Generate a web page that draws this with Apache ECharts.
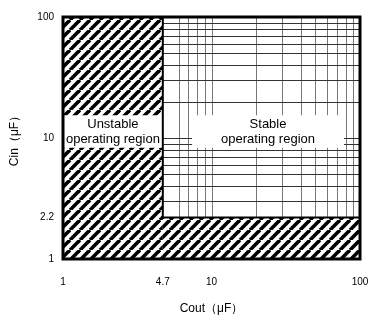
<!DOCTYPE html>
<html>
<head>
<meta charset="utf-8">
<script src="https://cdn.jsdelivr.net/npm/echarts@6/dist/echarts.min.js"></script>
<style>
  html, body { margin: 0; padding: 0; background: #fff; }
  #chart { width: 381px; height: 320px; }
</style>
</head>
<body>
<div id="chart"></div>
<script>
  // axis labels (uF)
  var xTicks = [1, 4.7, 10, 100]
  var yTicks = [1, 2.2, 10, 100]
  // stable region starts at Cout 4.7, Cin 2.2
  var xBound = 4.7
  var yBound = 2.2
  // log grid inside stable region
  var xGrid = [6, 7, 8, 9, 10, 20, 30, 40, 50, 60, 70, 80, 90]
  var yGrid = [3, 4, 5, 6, 7, 8, 9, 10, 20, 30, 40, 50, 60, 70, 80, 90]
  // hatched (unstable) rectangles: [x0, y0, x1, y1]
  var hatchRects = [
    [1, 1, xBound, 100],
    [xBound, 1, 100, yBound]
  ]
  var regionNames = ['Unstable\noperating region', 'Stable\noperating region']

  var FONT = '"Liberation Sans", Arial, sans-serif'

  function makeHatch (){
    var s = 10
    var c = document.createElement('canvas')
    c.width = s
    c.height = s
    var ctx = c.getContext('2d')
    ctx.fillStyle = '#fff'
    ctx.fillRect(0, 0, s, s)
    ctx.strokeStyle = '#000'
    ctx.lineWidth = 3.6
    for (var k = -1; k <= 1; k++) {
      ctx.beginPath()
      ctx.moveTo(k * s, s)
      ctx.lineTo(k * s + s, 0)
      ctx.stroke()
    }
    return c
  }
  var hatch = makeHatch()

  var chart = echarts.init(document.getElementById('chart'))

  var axisCommon = {
    type: 'log',
    logBase: 10,
    min: 1,
    max: 100,
    axisLine: { show: false },
    axisTick: { show: false },
    splitLine: { show: false },
    nameLocation: 'middle',
    nameTextStyle: { color: '#000', fontSize: 12, fontFamily: FONT },
  }

  var option = {
    animation: false,
    grid: { left: 63, right: 21, top: 17, bottom: 59 },
    xAxis: Object.assign({}, axisCommon, {
      name: 'Cout（μF）',
      nameGap: 44,
      axisLabel: {
        customValues: xTicks,
        margin: 18,
        color: '#000',
        fontSize: 10,
        fontFamily: FONT,
        formatter: function (v){ return String(+(+v).toPrecision(3)) },
      },
    }),
    yAxis: Object.assign({}, axisCommon, {
      name: 'Cin（μF）',
      nameGap: 42,
      axisLabel: {
        customValues: yTicks,
        margin: 9,
        color: '#000',
        fontSize: 10,
        fontFamily: FONT,
        formatter: function (v){ return String(+(+v).toPrecision(3)) },
      },
    }),
    series: [
      {
        type: 'custom',
        z: 2,
        data: hatchRects,
        renderItem: function (params, api){
          var p0 = api.coord([api.value(0), api.value(1)])
          var p1 = api.coord([api.value(2), api.value(3)])
          return {
            type: 'rect',
            shape: { x: p0[0], y: p1[1], width: p1[0] - p0[0], height: p0[1] - p1[1] },
            style: { fill: { image: hatch, repeat: 'repeat' }, stroke: null },
          }
        },
      },
      {
        // vertical grid lines
        type: 'custom',
        z: 3,
        data: xGrid,
        renderItem: function (params, api){
          var a = api.coord([api.value(0), yBound])
          var b = api.coord([api.value(0), 100])
          return {
            type: 'line',
            shape: { x1: Math.round(a[0]) + 0.5, y1: a[1], x2: Math.round(b[0]) + 0.5, y2: b[1] },
            style: { stroke: '#777', lineWidth: 1 },
          }
        },
      },
      {
        // horizontal grid lines
        type: 'custom',
        z: 3,
        data: yGrid,
        renderItem: function (params, api){
          var a = api.coord([xBound, api.value(0)])
          var b = api.coord([100, api.value(0)])
          return {
            type: 'line',
            shape: { x1: a[0], y1: Math.round(a[1]) + 0.5, x2: b[0], y2: Math.round(b[1]) + 0.5 },
            style: { stroke: '#333', lineWidth: 1 },
          }
        },
      },
      {
        // region labels on white boxes
        type: 'custom',
        z: 4,
        data: regionNames.map(function (n, i){ return [i] }),
        renderItem: function (params, api){
          var i = api.value(0)
          var box = i === 0 ? [1, 8.3, xBound, 15.4] : [7.4, 8.3, 78, 15.4]
          var p0 = api.coord([box[0], box[1]])
          var p1 = api.coord([box[2], box[3]])
          return {
            type: 'group',
            children: [
              {
                type: 'rect',
                shape: { x: p0[0], y: p1[1], width: p1[0] - p0[0], height: p0[1] - p1[1] },
                style: { fill: '#fff' },
              },
              {
                type: 'text',
                x: (p0[0] + p1[0]) / 2,
                y: (p0[1] + p1[1]) / 2,
                style: {
                  text: regionNames[i],
                  fill: '#000',
                  font: '13px ' + FONT,
                  align: 'center',
                  verticalAlign: 'middle',
                  lineHeight: 15,
                },
              },
            ],
          }
        },
      },
      {
        // outlines
        type: 'custom',
        z: 5,
        data: [[0]],
        renderItem: function (params, api){
          var o0 = api.coord([1, 1])
          var o1 = api.coord([100, 100])
          var s0 = api.coord([xBound, yBound])
          return {
            type: 'group',
            children: [
              {
                type: 'polyline',
                shape: { points: [[s0[0], o1[1]], [s0[0], s0[1]], [o1[0], s0[1]]] },
                style: { stroke: '#000', lineWidth: 2, fill: null },
              },
              {
                type: 'rect',
                shape: { x: o0[0], y: o1[1], width: o1[0] - o0[0], height: o0[1] - o1[1] },
                style: { stroke: '#000', lineWidth: 3, fill: null },
              },
            ],
          }
        },
      },
    ],
  }
  chart.setOption(option)
</script>
</body>
</html>
